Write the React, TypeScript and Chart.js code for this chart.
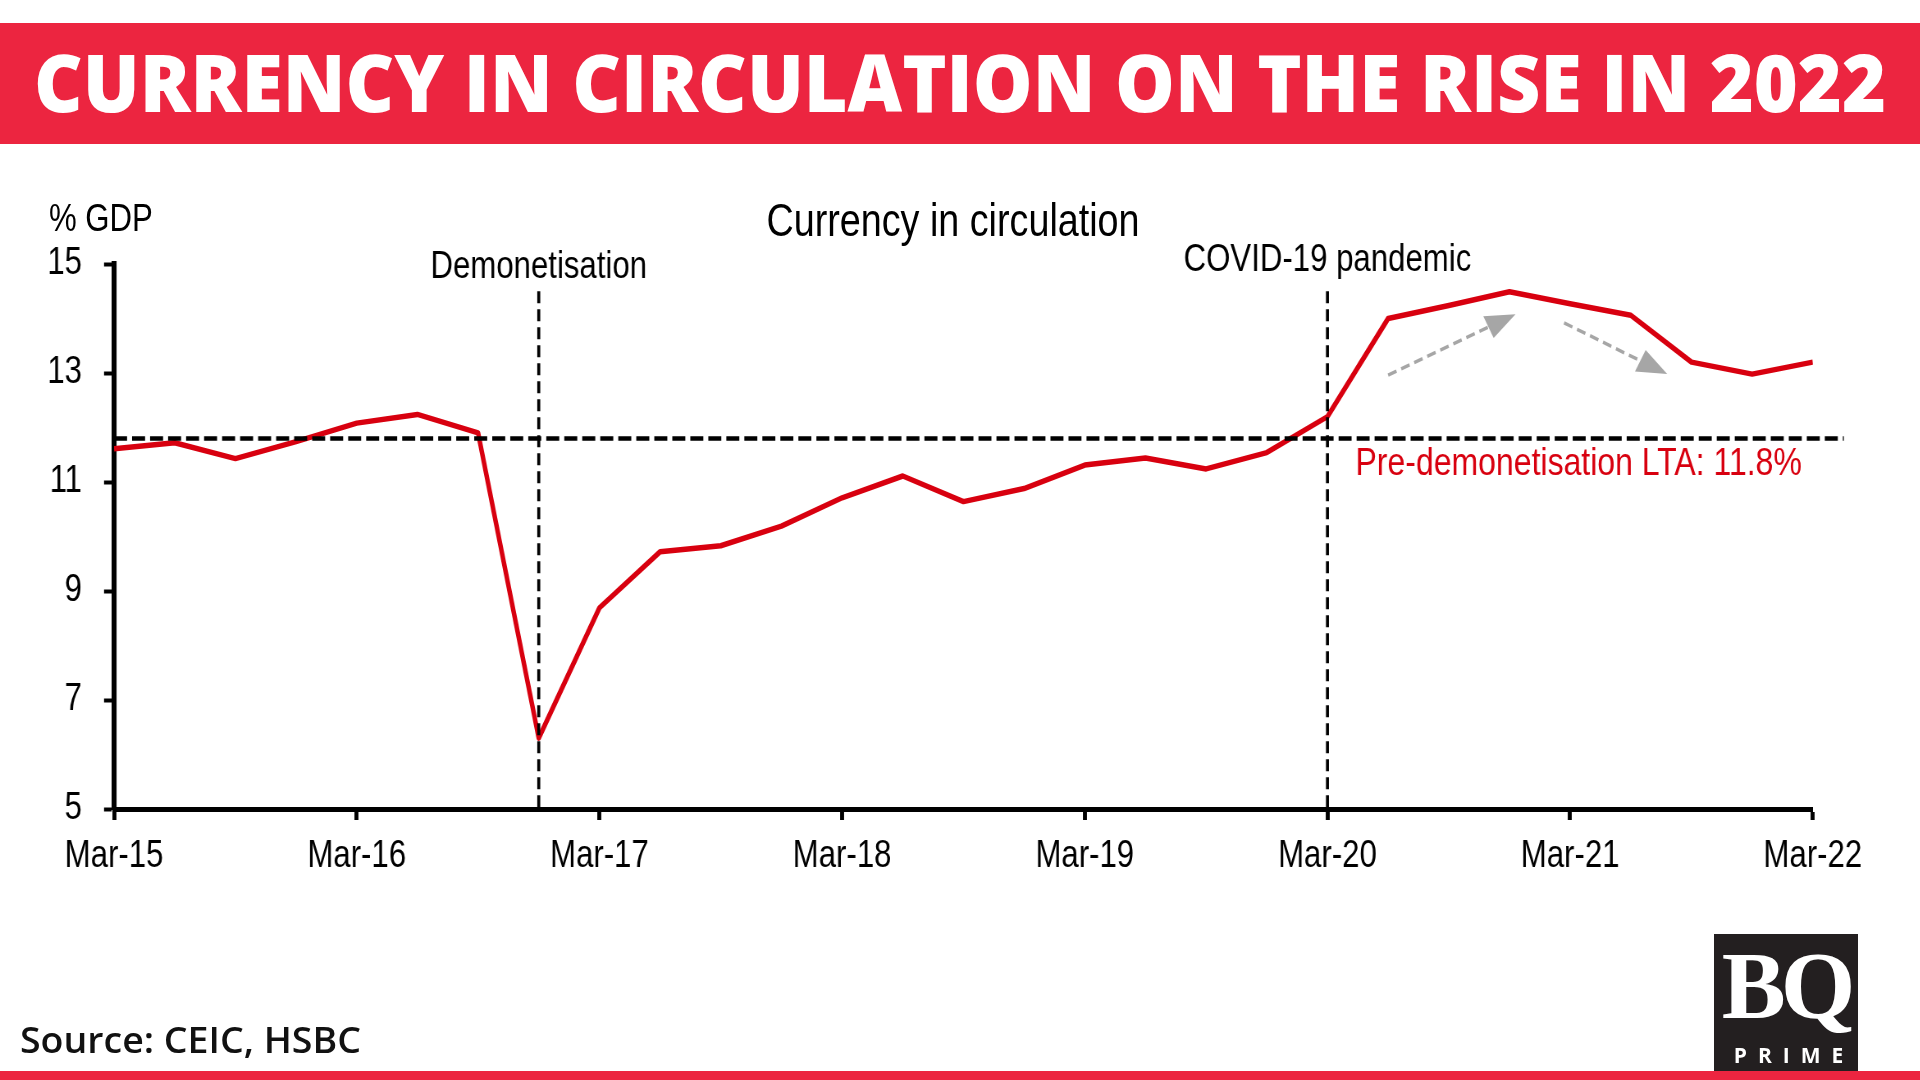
import React, { useEffect, useLayoutEffect, useRef } from 'react';
import { Chart, registerables } from 'chart.js';

Chart.register(...registerables);

// ---------- data ----------
const quarters = [
  'Mar-15', 'Jun-15', 'Sep-15', 'Dec-15',
  'Mar-16', 'Jun-16', 'Sep-16', 'Dec-16',
  'Mar-17', 'Jun-17', 'Sep-17', 'Dec-17',
  'Mar-18', 'Jun-18', 'Sep-18', 'Dec-18',
  'Mar-19', 'Jun-19', 'Sep-19', 'Dec-19',
  'Mar-20', 'Jun-20', 'Sep-20', 'Dec-20',
  'Mar-21', 'Jun-21', 'Sep-21', 'Dec-21',
  'Mar-22',
];
const currencyPctGdp = [
  11.61, 11.72, 11.43, 11.74,
  12.08, 12.24, 11.9, 6.3,
  8.69, 9.72, 9.83, 10.19,
  10.71, 11.11, 10.64, 10.88,
  11.31, 11.44, 11.24, 11.54,
  12.2, 14.0, 14.24, 14.49,
  14.27, 14.06, 13.2, 12.98,
  13.2,
];
const xTickLabels = ['Mar-15', 'Mar-16', 'Mar-17', 'Mar-18', 'Mar-19', 'Mar-20', 'Mar-21', 'Mar-22'];
const yTicks = [5, 7, 9, 11, 13, 15];
const ltaValue = 11.8;
const ltaLabel = 'Pre-demonetisation LTA: 11.8%';
const eventNames = ['Demonetisation', 'COVID-19 pandemic'];
const eventQuarters = ['Dec-16', 'Mar-20'];
const arrowStarts = [[21.0, 12.96], [23.9, 13.92]];
const arrowEnds = [[23.1, 14.08], [25.6, 12.98]];

const titleText = 'CURRENCY IN CIRCULATION ON THE RISE IN 2022';
const chartTitle = 'Currency in circulation';
const unitLabel = '% GDP';
const sourceText = 'Source: CEIC, HSBC';

// ---------- styles ----------
// Arial Narrow is Arial squeezed horizontally; emulate with Liberation Sans + horizontal squeeze.
const K = 0.82;
const SANS = '"Liberation Sans", Arial, sans-serif';
const RED_LINE = '#D8000F';
const BANNER = '#EC2540';
const EVENT_LABEL_OFFSETS = [24, 31];

function FitText({ text, width, style }: { text: string; width: number; style: React.CSSProperties }) {
  const ref = useRef<HTMLSpanElement>(null);
  useLayoutEffect(() => {
    const el = ref.current;
    if (!el) return;
    el.style.transform = 'none';
    const w = el.getBoundingClientRect().width;
    if (w > 0) el.style.transform = `scaleX(${width / w})`;
  }, [text, width]);
  return (
    <span
      ref={ref}
      style={{ ...style, display: 'inline-block', whiteSpace: 'nowrap', transformOrigin: 'left center' }}
    >
      {text}
    </span>
  );
}

const annotationPlugin = {
  id: 'annotationPlugin',
  afterDatasetsDraw(chart: any) {
    const { ctx, chartArea, scales } = chart;
    const x = scales.x;
    const y = scales.y;
    ctx.save();

    // long-term average line
    const ly = y.getPixelForValue(ltaValue);
    ctx.strokeStyle = '#000';
    ctx.lineWidth = 4.5;
    ctx.setLineDash([13 / K, 5 / K]);
    ctx.beginPath();
    ctx.moveTo(chartArea.left, ly);
    ctx.lineTo(chartArea.right + 31 / K, ly);
    ctx.stroke();

    // event lines
    ctx.lineWidth = 3 / K;
    ctx.setLineDash([12, 6]);
    ctx.font = `38px ${SANS}`;
    ctx.fillStyle = '#000';
    ctx.textAlign = 'center';
    ctx.textBaseline = 'middle';
    eventQuarters.forEach((q, i) => {
      const px = x.getPixelForValue(quarters.indexOf(q));
      const top = y.getPixelForValue(14.5);
      ctx.beginPath();
      ctx.moveTo(px, top);
      ctx.lineTo(px, chartArea.bottom);
      ctx.stroke();
      ctx.fillText(eventNames[i], px, top - EVENT_LABEL_OFFSETS[i]);
    });

    // LTA label
    const covidX = x.getPixelForValue(quarters.indexOf(eventQuarters[1]));
    ctx.font = `39px ${SANS}`;
    ctx.fillStyle = RED_LINE;
    ctx.textAlign = 'left';
    ctx.fillText(ltaLabel, covidX + 28 / K, ly + 26);

    // arrows (geometry computed in on-screen space, then mapped back)
    ctx.strokeStyle = '#A6A6A6';
    ctx.fillStyle = '#A6A6A6';
    ctx.lineWidth = 3.5;
    arrowStarts.forEach((s, i) => {
      const e = arrowEnds[i];
      const x0 = x.getPixelForValue(s[0]);
      const y0 = y.getPixelForValue(s[1]);
      const x1 = x.getPixelForValue(e[0]);
      const y1 = y.getPixelForValue(e[1]);
      const dx = (x1 - x0) * K;
      const dy = y1 - y0;
      const len = Math.hypot(dx, dy);
      const ux = dx / len;
      const uy = dy / len;
      const head = 30;
      const half = 12;
      const bx = x1 - (ux * head) / K;
      const by = y1 - uy * head;
      ctx.setLineDash([9 / K, 5 / K]);
      ctx.beginPath();
      ctx.moveTo(x0, y0);
      ctx.lineTo(bx, by);
      ctx.stroke();
      ctx.setLineDash([]);
      ctx.beginPath();
      ctx.moveTo(x1, y1);
      ctx.lineTo(bx - (uy * half) / K, by + ux * half);
      ctx.lineTo(bx + (uy * half) / K, by - ux * half);
      ctx.closePath();
      ctx.fill();
    });

    ctx.restore();
  },
};

function CurrencyChart() {
  const canvasRef = useRef<HTMLCanvasElement>(null);
  useEffect(() => {
    if (!canvasRef.current) return;
    const chart = new Chart(canvasRef.current, {
      type: 'line',
      data: {
        datasets: [
          {
            label: chartTitle,
            data: currencyPctGdp.map((v, i) => ({ x: i, y: v })),
            borderColor: RED_LINE,
            borderWidth: 5.5,
            borderJoinStyle: 'round',
            pointRadius: 0,
            tension: 0,
            fill: false,
          },
        ],
      },
      options: {
        animation: false,
        responsive: true,
        maintainAspectRatio: false,
        layout: { padding: { top: 264, right: 108 / K, left: 0, bottom: 0 } },
        plugins: { legend: { display: false }, tooltip: { enabled: false }, title: { display: false } },
        scales: {
          x: {
            type: 'linear',
            min: 0,
            max: quarters.length - 1,
            afterBuildTicks: (scale: any) => {
              scale.ticks = xTickLabels.map((l) => ({ value: quarters.indexOf(l) }));
            },
            afterFit: (scale: any) => {
              scale.height = 271;
            },
            ticks: {
              autoSkip: false,
              maxRotation: 0,
              padding: 14,
              color: '#000',
              font: { family: SANS, size: 38 },
              callback: (v: any) => quarters[Number(v)],
            },
            grid: {
              display: true,
              drawOnChartArea: false,
              drawTicks: true,
              tickLength: 11,
              tickWidth: 4 / K,
              tickColor: '#000',
            },
            border: { display: true, color: '#000', width: 5 },
          },
          y: {
            type: 'linear',
            min: 5,
            max: 15,
            afterBuildTicks: (scale: any) => {
              scale.ticks = yTicks.map((v) => ({ value: v }));
            },
            afterFit: (scale: any) => {
              scale.width = 114 / K;
            },
            ticks: {
              padding: 22 / K,
              color: '#000',
              font: { family: SANS, size: 38 },
              callback: (v: any) => String(v),
            },
            grid: {
              display: true,
              drawOnChartArea: false,
              drawTicks: true,
              tickLength: 10 / K,
              tickWidth: 4,
              tickColor: '#000',
            },
            border: { display: true, color: '#000', width: 5 / K },
          },
        },
      },
      plugins: [annotationPlugin],
    } as any);
    return () => chart.destroy();
  }, []);
  return (
    <div
      style={{
        position: 'absolute',
        left: 0,
        top: 0,
        width: 1920 / K,
        height: 1080,
        transform: `scaleX(${K})`,
        transformOrigin: '0 0',
      }}
    >
      <canvas ref={canvasRef} />
    </div>
  );
}

export default function App() {
  return (
    <div
      style={{
        position: 'fixed',
        left: 0,
        top: 0,
        width: 1920,
        height: 1080,
        background: '#fff',
        overflow: 'hidden',
      }}
    >
      {/* banner */}
      <div style={{ position: 'absolute', left: 0, top: 23, width: 1920, height: 121, background: BANNER }} />
      <div style={{ position: 'absolute', left: 34, top: 41, lineHeight: 1 }}>
        <FitText
          text={titleText}
          width={1852}
          style={{ fontFamily: '"Open Sans", sans-serif', fontWeight: 800, fontSize: 80, color: '#fff', lineHeight: 1 }}
        />
      </div>

      <CurrencyChart />

      {/* chart texts */}
      <div
        style={{
          position: 'absolute',
          left: 49,
          top: 218,
          transform: `translateY(-50%) scaleX(${K})`,
          transformOrigin: 'left center',
          fontFamily: SANS,
          fontSize: 38,
          lineHeight: 1,
          color: '#000',
          whiteSpace: 'nowrap',
        }}
      >
        {unitLabel}
      </div>
      <div
        style={{
          position: 'absolute',
          left: 953,
          top: 220,
          transform: `translate(-50%, -50%) scaleX(${K})`,
          fontFamily: SANS,
          fontSize: 46,
          lineHeight: 1,
          color: '#000',
          whiteSpace: 'nowrap',
        }}
      >
        {chartTitle}
      </div>

      {/* source */}
      <div style={{ position: 'absolute', left: 20, top: 1022, lineHeight: 1 }}>
        <FitText
          text={sourceText}
          width={341}
          style={{ fontFamily: '"Open Sans", sans-serif', fontWeight: 600, fontSize: 36, color: '#111', lineHeight: 1 }}
        />
      </div>

      {/* logo */}
      <div
        style={{
          position: 'absolute',
          left: 1714,
          top: 934,
          width: 144,
          height: 137,
          background: '#231F20',
          color: '#fff',
          textAlign: 'center',
        }}
      >
        <div
          style={{
            position: 'absolute',
            left: 0,
            width: 144,
            top: 4,
            fontFamily: '"Liberation Serif", "DejaVu Serif", serif',
            fontWeight: 700,
            fontSize: 96,
            lineHeight: 1,
            letterSpacing: -5,
          }}
        >
          BQ
        </div>
        <div
          style={{
            position: 'absolute',
            left: 8,
            width: 144,
            top: 111,
            fontFamily: '"Open Sans", sans-serif',
            fontWeight: 700,
            fontSize: 21,
            lineHeight: 1,
            letterSpacing: 11,
          }}
        >
          PRIME
        </div>
      </div>

      {/* bottom bar */}
      <div style={{ position: 'absolute', left: 0, top: 1071, width: 1920, height: 9, background: BANNER }} />
    </div>
  );
}
